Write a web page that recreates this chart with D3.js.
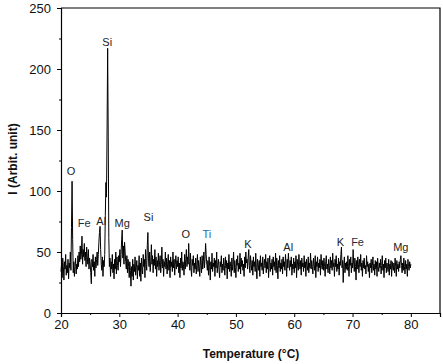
<!DOCTYPE html>
<html><head><meta charset="utf-8">
<script src="https://cdn.jsdelivr.net/npm/d3@7"></script>
<style>body{margin:0;background:#fff}svg{display:block}</style>
</head><body>
<svg id="c" width="443" height="364"></svg>
<script>
// Temperature start / step of the scan
const xStart = 20, xStep = 0.1;
// Intensity readings (I, arbitrary units), one row per degree (20.0 .. 80.0)
const intensity = [
34,40,29,45,38,27,42,36,48,31,
39,33,44,28,41,37,50,35,70,108,
60,33,42,30,38,45,32,40,36,47,
38,50,42,55,44,48,63,40,52,46,
57,43,50,38,54,46,40,52,36,45,
41,33,24,44,38,48,35,42,30,46,
37,44,50,39,48,58,66,71,52,40,
35,46,30,43,38,48,80,107,95,150,
217,145,62,38,45,30,42,36,48,33,
40,28,44,36,50,32,46,39,35,47,
42,52,38,48,60,68,45,55,40,58,
50,42,36,47,33,44,38,29,42,35,
22,38,30,44,27,40,34,46,31,37,
43,28,39,35,47,30,41,26,45,36,
32,48,38,44,29,52,40,35,55,66,
45,38,50,34,42,56,40,47,33,44,
39,52,36,46,30,43,38,49,35,41,
47,33,40,54,37,44,30,42,38,50,
36,45,32,41,48,35,43,29,46,38,
42,34,50,37,44,31,40,47,36,43,
38,46,33,41,29,45,37,50,35,42,
40,31,48,36,44,52,38,46,40,57,
42,35,49,37,30,44,39,47,33,41,
36,45,32,40,48,34,43,38,30,46,
39,33,47,36,42,50,37,44,57,48,
40,35,43,31,46,38,27,42,36,49,
34,41,38,45,30,43,37,50,33,40,
44,36,29,42,38,47,33,40,35,45,
39,31,46,37,43,28,41,36,48,34,
42,38,30,45,35,40,50,33,43,37,
29,44,39,47,34,41,36,49,32,45,
38,43,35,40,30,46,37,50,41,44,
36,45,52,39,33,47,40,35,43,31,
46,38,42,34,49,37,28,44,40,35,
43,30,47,38,41,35,46,32,39,44,
37,48,33,42,36,45,29,40,47,34,
41,36,44,31,46,38,42,35,49,33,
45,39,28,43,37,47,34,41,36,44,
32,46,38,42,35,48,40,30,44,37,
49,41,35,43,38,46,31,40,36,45,
33,42,37,47,29,44,39,35,48,40,
36,43,31,45,38,41,34,47,37,42,
30,44,39,35,46,33,41,37,49,36,
43,38,32,45,40,35,47,29,42,38,
46,34,41,37,44,31,48,39,36,43,
35,45,38,30,42,47,36,40,33,44,
39,32,46,37,43,35,49,38,41,30,
44,38,47,34,40,36,45,31,42,39,
48,54,37,43,25,40,46,33,41,36,
42,35,47,38,30,44,39,46,33,41,
37,52,40,34,45,38,27,43,36,46,
40,33,44,38,48,35,41,30,43,37,
45,36,39,32,47,38,42,34,40,29,
41,37,44,33,39,46,35,40,31,43,
36,42,30,45,38,34,41,37,44,32,
39,47,35,40,29,43,37,45,33,41,
38,34,44,31,40,36,43,30,42,37,
35,41,33,45,38,30,43,36,40,34,
42,37,44,47,39,33,41,35,45,38,
32,43,36,40,30,44,38,35,42,37,
40
];
// Peak annotations (element, temperature, intensity of label baseline)
const peakNames = ["O","Si","Fe","Al","Mg","Si","O","Ti","K","Al","K","Fe","Mg"];
const peakX     = [21.72,27.93,23.97,26.9,30.5,35.0,41.4,45.0,52.07,58.97,67.93,70.86,78.28];
const peakY     = [113,219,70.5,72,70.5,75.4,61.5,61.5,53.3,50.8,54.9,54.9,50.8];
// Axis ticks
const xTicks = [20,30,40,50,60,70,80];
const xMinor = [25,35,45,55,65,75,85];
const yTicks = [0,50,100,150,200,250];
const yMinor = [25,75,125,175,225];
const xDomain = [20,85], yDomain = [0,250];

const svg = d3.select("#c");
const m = {l:61, r:440, t:8, b:313};
const x = d3.scaleLinear().domain(xDomain).range([m.l, m.r]);
const y = d3.scaleLinear().domain(yDomain).range([m.b, m.t]);
const font = "'Liberation Sans', Arial, sans-serif";

const data = intensity.map((v,i)=>({t: xStart + i*xStep, v}));

// line
svg.append("path").datum(data)
  .attr("fill","none").attr("stroke","#000").attr("stroke-width",1)
  .attr("stroke-linejoin","round")
  .attr("d", d3.line().x(d=>x(d.t)).y(d=>y(d.v)));

// frame (top & right)
svg.append("path").attr("fill","none").attr("stroke","#000").attr("stroke-width",1.2)
  .attr("d", `M${m.l},${m.t}H${m.r}V${m.b}`);

// axes
const gx = svg.append("g").attr("transform",`translate(0,${m.b})`)
  .call(d3.axisBottom(x).tickValues(xTicks).tickSize(4).tickPadding(3).tickFormat(d3.format("d")));
const gxm = svg.append("g").attr("transform",`translate(0,${m.b})`)
  .call(d3.axisBottom(x).tickValues(xMinor).tickSize(2).tickFormat(""));
const gy = svg.append("g").attr("transform",`translate(${m.l},0)`)
  .call(d3.axisLeft(y).tickValues(yTicks).tickSize(4).tickPadding(6).tickFormat(d3.format("d")));
const gym = svg.append("g").attr("transform",`translate(${m.l},0)`)
  .call(d3.axisLeft(y).tickValues(yMinor).tickSize(2).tickFormat(""));
[gx,gxm,gy,gym].forEach(g=>{
  g.select(".domain").attr("stroke","#000").attr("stroke-width",1.2);
  g.selectAll(".tick line").attr("stroke","#000").attr("stroke-width",1);
  g.selectAll("text").attr("font-family",font).attr("font-size",13).attr("fill","#111");
});
gx.selectAll("text").attr("dy","0.71em");
gxm.select(".domain").remove(); gym.select(".domain").remove();

// peak labels
const labelColor = n => n==="Ti" ? "#2a6aaa" : (n==="Fe" ? "#1e2d45" : "#222");
svg.append("g").selectAll("text").data(peakNames).join("text")
  .attr("x",(d,i)=>x(peakX[i])).attr("y",(d,i)=>y(peakY[i]))
  .attr("text-anchor","middle").attr("font-family",font).attr("font-size",11)
  .attr("fill",d=>labelColor(d)).text(d=>d);

// axis titles
svg.append("text").attr("x",251).attr("y",358).attr("text-anchor","middle")
  .attr("font-family",font).attr("font-size",12).attr("font-weight","bold").attr("fill","#111")
  .text("Temperature (°C)");
svg.append("text").attr("transform","translate(17,159) rotate(-90)").attr("text-anchor","middle")
  .attr("font-family",font).attr("font-size",12).attr("font-weight","bold").attr("fill","#111")
  .text("I (Arbit. unit)");
</script>
</body></html>
